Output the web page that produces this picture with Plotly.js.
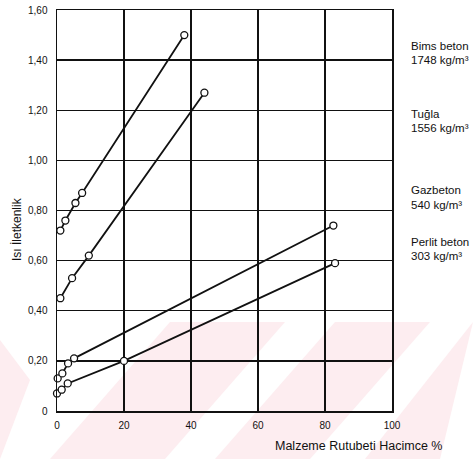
<!DOCTYPE html>
<html>
<head>
<meta charset="utf-8">
<script src="https://cdn.plot.ly/plotly-3.0.1.min.js"></script>
<style>
  html, body { margin: 0; padding: 0; background: #ffffff; }
  #chart { width: 473px; height: 459px; }
</style>
</head>
<body>
<div id="chart"></div>
<script>
// Data
const xBims   = [1, 2.5, 5.5, 7.5, 38];
const yBims   = [0.72, 0.76, 0.83, 0.87, 1.50];
const xTugla  = [1, 4.5, 9.5, 44];
const yTugla  = [0.45, 0.53, 0.62, 1.27];
const xGaz    = [0.2, 1.6, 3.3, 5.1, 82.5];
const yGaz    = [0.13, 0.15, 0.19, 0.21, 0.74];
const xPerlit = [0, 1.4, 3.2, 20, 83];
const yPerlit = [0.07, 0.085, 0.11, 0.20, 0.59];

const xTickVals = [0, 20, 40, 60, 80, 100];
const xTickText = ['0', '20', '40', '60', '80', '100'];
const yTickVals = [0, 0.2, 0.4, 0.6, 0.8, 1.0, 1.2, 1.4, 1.6];
const yTickText = ['0', '0,20', '0,40', '0,60', '0,80', '1,00', '1,20', '1,40', '1,60'];

const seriesLabels = [
  ['Bims beton', '1748 kg/m³'],
  ['Tuğla', '1556 kg/m³'],
  ['Gazbeton', '540 kg/m³'],
  ['Perlit beton', '303 kg/m³']
];
const labelRowsPx = [[46, 60], [114, 128], [190, 205], [242, 256]];

// layout geometry (pixels)
const W = 473, H = 459;
const L = 57, R = 392, T = 10, B = 411;
const px2x = p => (p - L) / (R - L);
const px2y = p => (B - p) / (B - T);

function mk(x, y) {
  return {
    x: x, y: y, type: 'scatter', mode: 'lines+markers', cliponaxis: false,
    line: { color: '#111', width: 1.8 },
    marker: { symbol: 'circle', size: 7, color: '#ffffff', line: { color: '#111', width: 1.3 } },
    showlegend: false, hoverinfo: 'skip'
  };
}
const traces = [mk(xBims, yBims), mk(xTugla, yTugla), mk(xGaz, yGaz), mk(xPerlit, yPerlit)];

// faint watermark stripes (background decoration)
const pink = '#fdedf0';
const stripes = [
  [[50, 459], [165, 459], [285, 322], [170, 322]],
  [[215, 459], [310, 459], [430, 322], [335, 322]],
  [[365, 459], [440, 459], [560, 322], [485, 322]],
  [[0, 340], [30, 380], [-10, 459], [0, 459]]
];
const shapes = stripes.map(poly => ({
  type: 'path', xref: 'paper', yref: 'paper', layer: 'below',
  path: 'M' + poly.map(p => px2x(Math.min(Math.max(p[0], 0), W)) + ',' + px2y(p[1])).join(' L') + ' Z',
  fillcolor: pink, line: { width: 0 }
}));

const annotations = [];
seriesLabels.forEach((lab, i) => {
  lab.forEach((t, j) => {
    annotations.push({
      xref: 'paper', yref: 'paper', x: px2x(409), y: px2y(labelRowsPx[i][j]),
      xanchor: 'left', yanchor: 'middle', showarrow: false, text: t,
      font: { family: 'Liberation Sans, Arial, sans-serif', size: 11.5, color: '#111' }
    });
  });
});
annotations.push({
  xref: 'paper', yref: 'paper', x: px2x(17), y: px2y(229), textangle: -90,
  xanchor: 'center', yanchor: 'middle', showarrow: false, text: 'Isı İletkenlik',
  font: { family: 'Liberation Sans, Arial, sans-serif', size: 12, color: '#111' }
});
annotations.push({
  xref: 'paper', yref: 'paper', x: px2x(358), y: px2y(446),
  xanchor: 'center', yanchor: 'middle', showarrow: false, text: 'Malzeme Rutubeti Hacimce %',
  font: { family: 'Liberation Sans, Arial, sans-serif', size: 12.5, color: '#111' }
});

const axisCommon = {
  showgrid: true, gridcolor: '#111', gridwidth: 1.3,
  showline: true, linecolor: '#111', linewidth: 1.5, mirror: true,
  zeroline: false, ticks: '', fixedrange: true,
  tickfont: { family: 'Liberation Sans, Arial, sans-serif', size: 10, color: '#111' }
};

const layout = {
  width: W, height: H,
  margin: { l: L, r: W - R, t: T, b: H - B, pad: 0 },
  paper_bgcolor: '#ffffff',
  plot_bgcolor: 'rgba(0,0,0,0)',
  showlegend: false,
  xaxis: Object.assign({}, axisCommon, {
    range: [0, 100], tickmode: 'array', tickvals: xTickVals, ticktext: xTickText, ticklabelstandoff: 4
  }),
  yaxis: Object.assign({}, axisCommon, {
    range: [0, 1.6], tickmode: 'array', tickvals: yTickVals, ticktext: yTickText, ticklabelstandoff: 6
  }),
  shapes: shapes,
  annotations: annotations
};

Plotly.newPlot('chart', traces, layout, { staticPlot: true, displayModeBar: false });
</script>
</body>
</html>
